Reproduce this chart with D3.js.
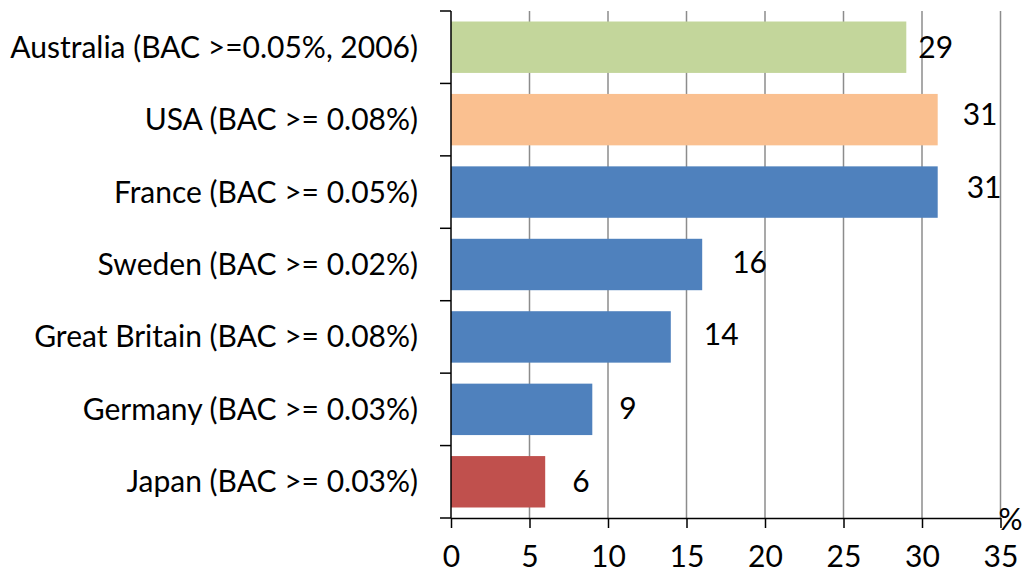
<!DOCTYPE html>
<html>
<head>
<meta charset="utf-8">
<script src="https://cdn.jsdelivr.net/npm/d3@7"></script>
<style>
  html, body { margin: 0; padding: 0; background: #fff; }
  svg { display: block; }
  text { font-family: Lato, "Open Sans", sans-serif; fill: #000; }
</style>
</head>
<body>
<svg id="chart" width="1026" height="574"></svg>
<script>
// Share of drivers over the legal BAC limit, by country (%)
const categories = [
  "Australia (BAC >=0.05%, 2006)",
  "USA (BAC >= 0.08%)",
  "France (BAC >= 0.05%)",
  "Sweden (BAC >= 0.02%)",
  "Great Britain (BAC >= 0.08%)",
  "Germany (BAC >= 0.03%)",
  "Japan (BAC >= 0.03%)"
];
const values = [29, 31, 31, 16, 14, 9, 6];
const barColors = ["#c3d69b", "#fac090", "#4f81bd", "#4f81bd", "#4f81bd", "#4f81bd", "#c0504d"];
const xTicks = [0, 5, 10, 15, 20, 25, 30, 35];
const unitLabel = "%";

// Small placement nudges for the value labels (px)
const labelDx = [12, 25, 29, 30, 33, 27, 27];
const labelDy = [0.5, -5.5, -4.5, -2, -2.5, -1, -0.5];

const fontSize = 30;
const svg = d3.select("#chart");
const plotLeft = 451, plotRight = 1000.5, plotTop = 11, plotBottom = 518;

const x = d3.scaleLinear().domain([0, 35]).range([plotLeft, plotRight]);
const y = d3.scaleBand().domain(categories).range([plotTop, plotBottom])
  .paddingInner(0.29).paddingOuter(0.145);

// vertical gridlines
svg.append("g").selectAll("line")
  .data(xTicks.filter(d => d > 0))
  .join("line")
  .attr("x1", d => x(d)).attr("x2", d => x(d))
  .attr("y1", plotTop).attr("y2", plotBottom)
  .attr("stroke", "#8c8c8c").attr("stroke-width", 1.5);

// bars
svg.append("g").selectAll("rect")
  .data(values)
  .join("rect")
  .attr("x", x(0))
  .attr("y", (d, i) => y(categories[i]))
  .attr("width", d => x(d) - x(0))
  .attr("height", y.bandwidth())
  .attr("fill", (d, i) => barColors[i]);

// bottom axis
const xAxis = d3.axisBottom(x).tickValues(xTicks).tickSize(10).tickPadding(18).tickSizeOuter(0);
const gx = svg.append("g").attr("transform", `translate(0,${plotBottom})`).call(xAxis);
gx.select(".domain").attr("stroke", "#000").attr("stroke-width", 1.5);
gx.selectAll(".tick line").attr("stroke", "#000").attr("stroke-width", 1.5);
gx.selectAll(".tick text").attr("font-size", fontSize).attr("font-family", "Lato, 'Open Sans', sans-serif").attr("fill", "#000");

// left axis: boundaries between categories get tick marks
const bounds = d3.range(categories.length + 1).map(i => plotTop + i * (plotBottom - plotTop) / categories.length);
const gy = svg.append("g");
gy.append("line")
  .attr("x1", plotLeft).attr("x2", plotLeft).attr("y1", plotTop).attr("y2", plotBottom)
  .attr("stroke", "#000").attr("stroke-width", 1.5);
gy.selectAll("line.tk")
  .data(bounds)
  .join("line").attr("class", "tk")
  .attr("x1", plotLeft - 11).attr("x2", plotLeft)
  .attr("y1", d => d).attr("y2", d => d)
  .attr("stroke", "#000").attr("stroke-width", 1.5);

// category labels
svg.append("g").selectAll("text")
  .data(categories)
  .join("text")
  .attr("x", plotLeft - 33)
  .attr("y", d => y(d) + y.bandwidth() / 2)
  .attr("dy", "0.35em")
  .attr("text-anchor", "end")
  .attr("font-size", fontSize)
  .text(d => d);

// value labels
svg.append("g").selectAll("text")
  .data(values)
  .join("text")
  .attr("x", (d, i) => x(d) + labelDx[i])
  .attr("y", (d, i) => y(categories[i]) + y.bandwidth() / 2 + labelDy[i])
  .attr("dy", "0.35em")
  .attr("font-size", fontSize)
  .text(d => d);

// unit label at the end of the value axis
svg.append("text")
  .attr("x", plotRight - 2).attr("y", 530)
  .attr("font-size", fontSize)
  .text(unitLabel);
</script>
</body>
</html>
